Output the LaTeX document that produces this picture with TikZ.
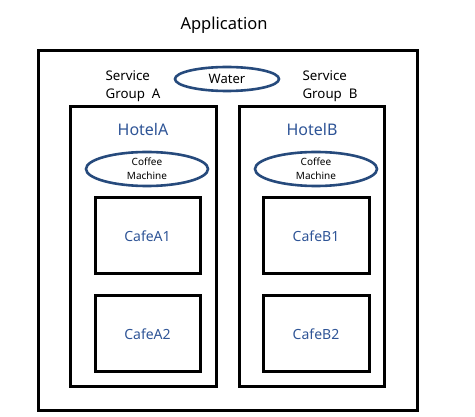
\documentclass[tikz,border=0pt]{standalone}
\usepackage{fontspec}
\setmainfont{Noto Sans}
\usetikzlibrary{shapes.geometric}
\definecolor{hotelblue}{HTML}{2E5496}
\definecolor{ringblue}{HTML}{264A7C}
\begin{document}
\begin{tikzpicture}[x=1pt, y=-1pt,
  box/.style={draw, line width=3pt, inner sep=0pt},
  ring/.style={draw=ringblue, ellipse, line width=2.6pt, inner sep=0pt},
  label/.style={font=\fontsize{13.3}{18}\selectfont, align=left}]
  \useasboundingbox (0,0) rectangle (475,417);
  \node[font=\fontsize{16.5}{18}\selectfont] (app) at (224,25) {Application};
  \node[box, minimum width=379pt, minimum height=360pt] (appbox) at (227.5,231) {};
  \node[label] (groupA) at (133,86) {Service\\Group\ \ A};
  \node[label] (groupB) at (330,86) {Service\\Group\ \ B};
  \node[ring, minimum width=104pt, minimum height=24pt, font=\fontsize{13}{15}\selectfont] (water) at (227,79) {Water};
  \node[box, minimum width=146pt, minimum height=280pt] (hotelA) at (143,247) {};
  \node[box, minimum width=145pt, minimum height=280pt] (hotelB) at (311.5,247) {};
  \node[text=hotelblue, font=\fontsize{16}{18}\selectfont] (nameA) at (143,130) {HotelA};
  \node[text=hotelblue, font=\fontsize{16}{18}\selectfont] (nameB) at (312,130) {HotelB};
  \node[ring, minimum width=122pt, minimum height=34pt, align=center, font=\fontsize{10}{14}\selectfont] (coffeeA) at (147,169) {Coffee\\Machine};
  \node[ring, minimum width=122pt, minimum height=34pt, align=center, font=\fontsize{10}{14}\selectfont] (coffeeB) at (316,169) {Coffee\\Machine};
  \node[box, minimum width=105pt, minimum height=76pt, text=hotelblue, font=\fontsize{14}{16}\selectfont] (cafeA1) at (147.5,236) {CafeA1};
  \node[box, minimum width=105pt, minimum height=76pt, text=hotelblue, font=\fontsize{14}{16}\selectfont] (cafeA2) at (147.5,334) {CafeA2};
  \node[box, minimum width=106pt, minimum height=76pt, text=hotelblue, font=\fontsize{14}{16}\selectfont] (cafeB1) at (316,236) {CafeB1};
  \node[box, minimum width=106pt, minimum height=76pt, text=hotelblue, font=\fontsize{14}{16}\selectfont] (cafeB2) at (316,334) {CafeB2};
\end{tikzpicture}
\end{document}
